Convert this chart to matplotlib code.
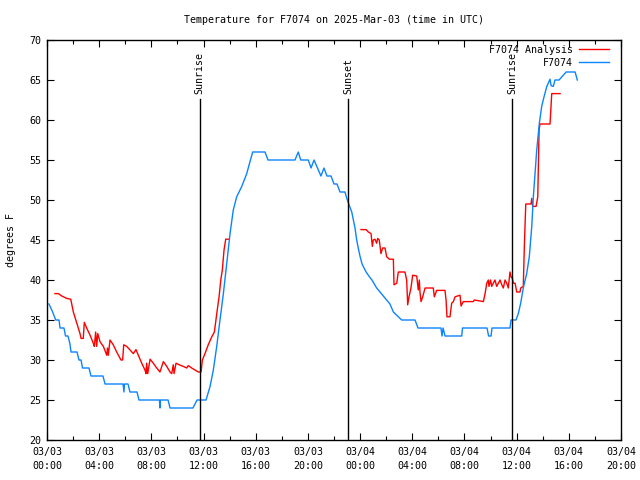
import matplotlib
matplotlib.use("Agg")
import matplotlib.pyplot as plt
import numpy as np

# hours since 03/03 00:00 UTC
obs_hours = [0.15, 0.38, 0.67, 0.92, 1.00, 1.30, 1.42, 1.61, 1.76, 1.84, 2.30, 2.45, 2.61, 2.72, 3.22, 3.37,
             4.29, 4.45, 5.83, 5.90, 5.94, 6.21, 6.36, 6.90, 7.05, 8.62, 8.66, 8.70, 9.28, 9.43, 11.19, 11.50,
             12.19, 12.50, 12.75, 13.01, 13.26, 13.52, 13.78, 14.03, 14.28, 14.54, 14.93, 15.31, 15.56, 15.77,
             16.71, 16.94, 19.01, 19.26, 19.45, 20.03, 20.24, 20.47, 21.00, 21.23, 21.46, 21.77, 22.00, 22.23,
             22.46, 22.84, 23.02, 23.36, 23.61, 23.74, 23.86, 23.99, 24.15, 24.46, 24.76, 24.91, 25.27, 25.78,
             26.29, 26.55, 27.19, 28.21, 28.44, 30.20, 30.28, 30.36, 30.51, 31.79, 31.85, 33.73, 33.85, 34.04,
             34.11, 35.49, 35.57, 35.95, 36.13, 36.31, 36.51, 36.77, 36.97, 37.16, 37.28, 37.41, 37.54, 37.74,
             37.92, 38.10, 38.31, 38.56, 38.64, 38.81, 38.94, 39.25, 39.58, 39.79, 40.48, 40.55, 40.65]
obs_temp = [37.0, 36.2, 35.0, 35.0, 34.0, 34.0, 33.0, 33.0, 32.0, 31.0, 31.0, 30.0, 30.0, 29.0, 29.0, 28.0,
            28.0, 27.0, 27.0, 26.0, 27.0, 27.0, 26.0, 26.0, 25.0, 25.0, 24.0, 25.0, 25.0, 24.0, 24.0, 25.0,
            25.0, 26.7, 28.75, 31.7, 35.0, 38.3, 42.1, 45.8, 48.75, 50.4, 51.7, 53.3, 54.8, 56.0,
            56.0, 55.0, 55.0, 56.0, 55.0, 55.0, 54.0, 55.0, 53.0, 54.0, 53.0, 53.0, 52.0, 52.0,
            51.0, 51.0, 50.0, 48.5, 46.5, 45.0, 44.0, 43.0, 42.0, 41.0, 40.3, 40.0, 39.0, 38.0,
            37.0, 36.0, 35.0, 35.0, 34.0, 34.0, 33.0, 34.0, 33.0, 33.0, 34.0, 34.0, 33.0, 33.0,
            34.0, 34.0, 35.0, 35.0, 35.8, 37.1, 39.0, 40.8, 42.9, 46.7, 50.4, 53.3, 56.25, 59.6,
            61.7, 62.9, 64.2, 65.1, 64.3, 64.2, 65.0, 65.0, 65.6, 66.0, 66.0, 65.6, 65.0]

ana_hours = [0.61, 0.87, 1.13, 1.51, 1.82, 2.02, 2.28, 2.53, 2.61, 2.78, 2.86, 3.04, 3.30, 3.55, 3.63, 3.73,
             3.81, 3.89, 4.06, 4.32, 4.58, 4.64, 4.70, 4.83, 5.08, 5.34, 5.67, 5.80, 5.88, 6.11, 6.62, 6.82,
             7.00, 7.26, 7.51, 7.59, 7.64, 7.72, 7.90, 8.15, 8.41, 8.66, 8.92, 9.18, 9.43, 9.56, 9.68, 9.74,
             9.89, 10.14, 10.45, 10.71, 10.83, 11.09, 11.35, 11.60, 11.81, 11.91, 12.11, 12.36, 12.63, 12.83,
             12.93, 13.05, 13.19, 13.32, 13.44, 13.57, 13.70, 13.95, 19.0,
             24.07, 24.46, 24.63, 24.84, 24.94, 25.01, 25.14, 25.27, 25.35, 25.47, 25.60, 25.73, 25.91, 26.04,
             26.24, 26.55, 26.60, 26.81, 26.93, 27.44, 27.57, 27.65, 27.75, 27.90, 28.03, 28.34, 28.46, 28.54,
             28.59, 28.67, 28.80, 28.98, 29.61, 29.69, 29.87, 30.51, 30.59, 30.66, 30.89, 31.02, 31.15, 31.28,
             31.66, 31.74, 31.91, 32.68, 32.76, 33.45, 33.58, 33.71, 33.83, 33.88, 34.00, 34.09, 34.21, 34.34,
             34.47, 34.60, 34.73, 34.86, 34.98, 35.11, 35.24, 35.36, 35.49, 35.57, 35.67, 35.75, 35.88, 36.01,
             36.26, 36.31, 36.51, 36.59, 36.70, 37.10, 37.16, 37.23, 37.49, 37.62, 37.72, 37.79, 38.56, 38.69,
             39.33]
ana_temp = [38.3, 38.3, 38.0, 37.7, 37.6, 36.0, 34.6, 33.3, 32.7, 32.7, 34.7, 34.0, 33.1, 32.1, 31.7, 33.5,
            31.7, 33.3, 32.3, 31.7, 30.6, 31.5, 30.6, 32.5, 31.9, 31.0, 30.0, 30.0, 31.9, 31.7, 30.8, 31.3,
            30.6, 29.6, 28.75, 28.3, 29.6, 28.3, 30.1, 29.6, 29.0, 28.5, 29.8, 29.2, 28.5, 28.3, 29.4, 28.3,
            29.6, 29.4, 29.2, 29.0, 29.3, 29.0, 28.75, 28.5, 28.5, 30.0, 30.8, 31.9, 32.9, 33.5,
            34.8, 36.25, 37.9, 40.0, 41.25, 43.75, 45.1, 45.1, np.nan,
            46.3, 46.3, 46.0, 45.8, 44.2, 45.0, 45.1, 44.6, 45.2, 45.0, 43.3, 44.0, 44.0, 42.9,
            42.6, 42.6, 39.4, 39.6, 41.0, 41.0, 40.0, 36.9, 37.9, 39.0, 40.6, 40.5, 38.75, 40.0,
            38.5, 37.3, 37.9, 39.0, 39.0, 37.9, 38.7, 38.7, 37.5, 35.4, 35.4, 37.1, 37.3, 37.9,
            38.1, 36.75, 37.3, 37.3, 37.5, 37.3, 38.3, 39.6, 40.0, 39.2, 40.0, 39.2, 39.6, 40.0,
            39.2, 39.6, 40.0, 39.4, 39.0, 40.0, 39.6, 39.0, 41.0, 40.4, 40.2, 39.6, 39.6, 38.5,
            38.5, 39.0, 39.2, 44.2, 49.5, 49.5, 50.2, 49.2, 49.2, 50.4, 58.75, 59.5, 59.5, 63.3,
            63.3]

event_hours = [11.69, 23.07, 35.65]
event_labels = ["Sunrise", "Sunset", "Sunrise"]

tick_hours = [0, 4, 8, 12, 16, 20, 24, 28, 32, 36, 40, 44]
tick_labels = ["03/03\n00:00", "03/03\n04:00", "03/03\n08:00", "03/03\n12:00", "03/03\n16:00", "03/03\n20:00",
               "03/04\n00:00", "03/04\n04:00", "03/04\n08:00", "03/04\n12:00", "03/04\n16:00", "03/04\n20:00"]
ytick_vals = [20, 25, 30, 35, 40, 45, 50, 55, 60, 65, 70]

FS = 7.2
plt.rcParams['font.family'] = ['DejaVu Sans Mono']
plt.rcParams['font.size'] = FS

fig = plt.figure(figsize=(6.4, 4.8), dpi=100)
ax = fig.add_axes([47/640, 40/480, 574/640, 400/480])

ax.plot(ana_hours, ana_temp, color='#ff0000', lw=1.0, label='F7074 Analysis')
ax.plot(obs_hours, obs_temp, color='#0a84ff', lw=1.0, label='F7074')

for h, lab in zip(event_hours, event_labels):
    ax.plot([h, h], [20, 62.6], color='black', lw=1.0)
    ax.text(h, 63.3, lab, rotation=90, ha='center', va='bottom', fontsize=FS)

ax.set_xlim(0, 44)
ax.set_ylim(20, 70)
ax.set_xticks(tick_hours)
ax.set_xticklabels(tick_labels, linespacing=1.5)
ax.set_xticks(np.arange(0, 45, 2), minor=True)
ax.set_yticks(ytick_vals)
ax.tick_params(axis='both', which='both', direction='in', top=True, right=True, width=0.8)
ax.tick_params(axis='both', which='major', length=5, pad=4)
ax.tick_params(axis='x', which='major', pad=5)
ax.tick_params(axis='x', which='minor', length=3)
ax.set_ylabel('degrees F', labelpad=10)
ax.set_title('Temperature for F7074 on 2025-Mar-03 (time in UTC)', fontsize=FS, pad=12)
for s in ax.spines.values():
    s.set_linewidth(1.0)

ax.legend(loc='upper right', bbox_to_anchor=(1 - 6/574, 1 + 1/400), markerfirst=False, frameon=False,
          handlelength=3.0, borderaxespad=0.2, labelspacing=0.3, handletextpad=0.6, fontsize=FS)

fig.savefig('out.png', dpi=100)
